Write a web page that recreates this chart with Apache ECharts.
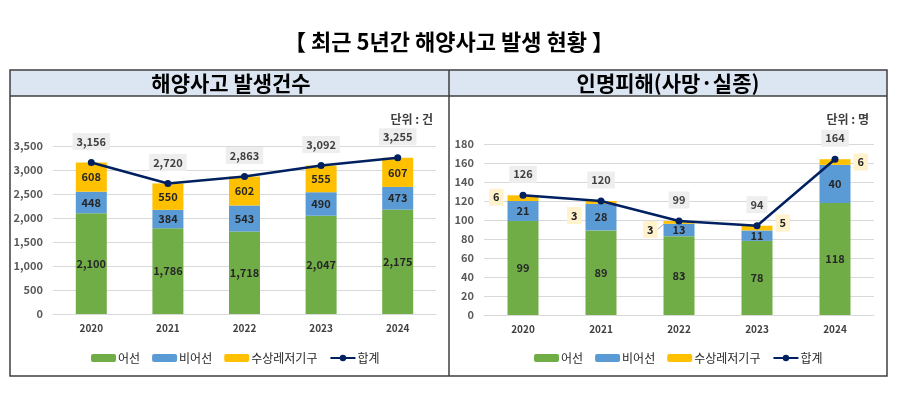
<!DOCTYPE html>
<html>
<head>
<meta charset="utf-8">
<script src="https://cdn.jsdelivr.net/npm/echarts@6/dist/echarts.min.js"></script>
<style>
  html, body { margin: 0; padding: 0; background: #ffffff; }
  #main { width: 899px; height: 397px; }
</style>
</head>
<body>
<div id="main"></div>
<script>
const years = ["2020", "2021", "2022", "2023", "2024"];
const seriesNames = ["어선", "비어선", "수상레저기구", "합계"];

// 해양사고 발생건수 (건)
const accFishing = [2100, 1786, 1718, 2047, 2175];
const accNonFishing = [448, 384, 543, 490, 473];
const accLeisure = [608, 550, 602, 555, 607];
const accTotal = [3156, 2720, 2863, 3092, 3255];

// 인명피해 (명)
const casFishing = [99, 89, 83, 78, 118];
const casNonFishing = [21, 28, 13, 11, 40];
const casLeisure = [6, 3, 3, 5, 6];
const casTotal = [126, 120, 99, 94, 164];

// 수상레저기구 라벨 위치 (인명피해 차트)
const leisureLabelPos = ["left", "left", "left", "right", "right"];
const leisureLabelOffset = [[-1, -1], [-1, 13], [-3, 7], [0, -5], [0, 0]];

const FONT = "'Noto Sans CJK KR', 'Noto Sans', sans-serif";
const colors = ["#70ad47", "#5b9bd5", "#ffc000", "#002060"];

let myChart = echarts.init(document.getElementById("main"));
let option;

function fmt(v) {
  return Number(v).toLocaleString("en-US");
}

function insideLabel() {
  return {
    show: true,
    position: "inside",
    fontFamily: FONT,
    fontSize: 11,
    fontWeight: "bold",
    color: "#262626",
    formatter: p => fmt(p.value),
  };
}

function totalLabel() {
  return {
    show: true,
    position: "top",
    distance: 9,
    fontFamily: FONT,
    fontSize: 11,
    fontWeight: "bold",
    color: "#404040",
    backgroundColor: "#eeeeee",
    padding: [2, 4],
    lineHeight: 13,
    formatter: p => fmt(p.value),
  };
}

function xAxisCfg(idx) {
  return {
    type: "category",
    gridIndex: idx,
    data: years,
    axisTick: { show: false },
    axisLine: { lineStyle: { color: "#d9d9d9" } },
    axisLabel: {
      margin: 9,
      fontFamily: FONT,
      fontSize: 10,
      fontWeight: "bold",
      color: "#404040",
    },
  };
}

function yAxisCfg(idx, max, interval) {
  return {
    type: "value",
    gridIndex: idx,
    min: 0,
    max: max,
    interval: interval,
    axisLine: { show: false },
    axisTick: { show: false },
    splitLine: { lineStyle: { color: "#d9d9d9" } },
    axisLabel: {
      margin: 10,
      fontFamily: FONT,
      fontSize: 11,
      fontWeight: "bold",
      color: "#595959",
      formatter: v => fmt(v),
    },
  };
}

function legendCfg(left) {
  return {
    left: left,
    top: 347,
    itemWidth: 25,
    itemHeight: 8,
    itemGap: 12,
    data: seriesNames,
    textStyle: { fontFamily: FONT, fontSize: 12, color: "#262626", padding: [0, 0, 0, -3] },
  };
}

const leisureCasData = casLeisure.map((v, i) => ({
  value: v,
  label: {
    show: true,
    position: leisureLabelPos[i],
    distance: 3,
    offset: leisureLabelOffset[i],
    fontFamily: FONT,
    fontSize: 11,
    fontWeight: "bold",
    color: "#262626",
    backgroundColor: "#fff2cc",
    padding: [2, 4],
    lineHeight: 13,
  },
}));

option = {
  color: colors,
  animation: false,
  textStyle: { fontFamily: FONT },
  graphic: [
    {
      type: "text",
      x: 449, y: 42,
      style: {
        text: "【 최근 5년간 해양사고 발생 현황 】",
        align: "center", verticalAlign: "middle",
        fontFamily: FONT,
        fontSize: 22,
        fontWeight: "bold",
        fill: "#000000",
      },
    },
    {
      type: "rect",
      shape: { x: 10, y: 70, width: 877, height: 26 },
      style: { fill: "#dce6f2", stroke: null },
      z: -1,
    },
    {
      type: "rect",
      shape: { x: 10, y: 70, width: 877, height: 306 },
      style: { fill: null, stroke: "#3f3f3f", lineWidth: 1.5 },
    },
    {
      type: "line",
      shape: { x1: 10, y1: 96, x2: 887, y2: 96 },
      style: { stroke: "#3f3f3f", lineWidth: 1.5 },
    },
    {
      type: "line",
      shape: { x1: 449, y1: 70, x2: 449, y2: 376 },
      style: { stroke: "#3f3f3f", lineWidth: 1.5 },
    },
    {
      type: "line",
      shape: { x1: 658, y1: 229, x2: 664, y2: 224 },
      style: { stroke: "#a6a6a6", lineWidth: 1 },
    },
    {
      type: "text",
      x: 231, y: 83,
      style: {
        text: "해양사고 발생건수",
        align: "center", verticalAlign: "middle",
        fontFamily: FONT, fontSize: 21, fontWeight: "bold", fill: "#000000",
      },
    },
    {
      type: "text",
      x: 668, y: 83,
      style: {
        text: "인명피해(사망·실종)",
        align: "center", verticalAlign: "middle",
        fontFamily: FONT, fontSize: 21, fontWeight: "bold", fill: "#000000",
      },
    },
    {
      type: "text",
      x: 433, y: 119,
      style: {
        text: "단위 : 건",
        align: "right", verticalAlign: "middle",
        fontFamily: FONT, fontSize: 12, fontWeight: "bold", fill: "#404040",
      },
    },
    {
      type: "text",
      x: 869, y: 119,
      style: {
        text: "단위 : 명",
        align: "right", verticalAlign: "middle",
        fontFamily: FONT, fontSize: 12, fontWeight: "bold", fill: "#404040",
      },
    },
  ],
  legend: [legendCfg(86), legendCfg(529)],
  grid: [
    { left: 53, right: 463, top: 146, bottom: 83 },
    { left: 484, right: 25, top: 144, bottom: 82 },
  ],
  xAxis: [xAxisCfg(0), xAxisCfg(1)],
  yAxis: [yAxisCfg(0, 3500, 500), yAxisCfg(1, 180, 20)],
  series: [
    { name: "어선", type: "bar", stack: "acc", barWidth: 31, xAxisIndex: 0, yAxisIndex: 0, data: accFishing, label: insideLabel() },
    { name: "비어선", type: "bar", stack: "acc", barWidth: 31, xAxisIndex: 0, yAxisIndex: 0, data: accNonFishing, label: insideLabel() },
    { name: "수상레저기구", type: "bar", stack: "acc", barWidth: 31, xAxisIndex: 0, yAxisIndex: 0, data: accLeisure, label: insideLabel() },
    {
      name: "합계", type: "line", xAxisIndex: 0, yAxisIndex: 0, data: accTotal,
      symbol: "circle", symbolSize: 7, z: 5,
      lineStyle: { width: 2.5, color: "#002060" },
      itemStyle: { color: "#002060" },
      label: totalLabel(),
    },
    { name: "어선", type: "bar", stack: "cas", barWidth: 31, xAxisIndex: 1, yAxisIndex: 1, data: casFishing, label: insideLabel() },
    { name: "비어선", type: "bar", stack: "cas", barWidth: 31, xAxisIndex: 1, yAxisIndex: 1, data: casNonFishing, label: insideLabel() },
    { name: "수상레저기구", type: "bar", stack: "cas", barWidth: 31, xAxisIndex: 1, yAxisIndex: 1, data: leisureCasData },
    {
      name: "합계", type: "line", xAxisIndex: 1, yAxisIndex: 1, data: casTotal,
      symbol: "circle", symbolSize: 7, z: 5,
      lineStyle: { width: 2.5, color: "#002060" },
      itemStyle: { color: "#002060" },
      label: totalLabel(),
    },
  ],
};

option && myChart.setOption(option);
</script>
</body>
</html>
